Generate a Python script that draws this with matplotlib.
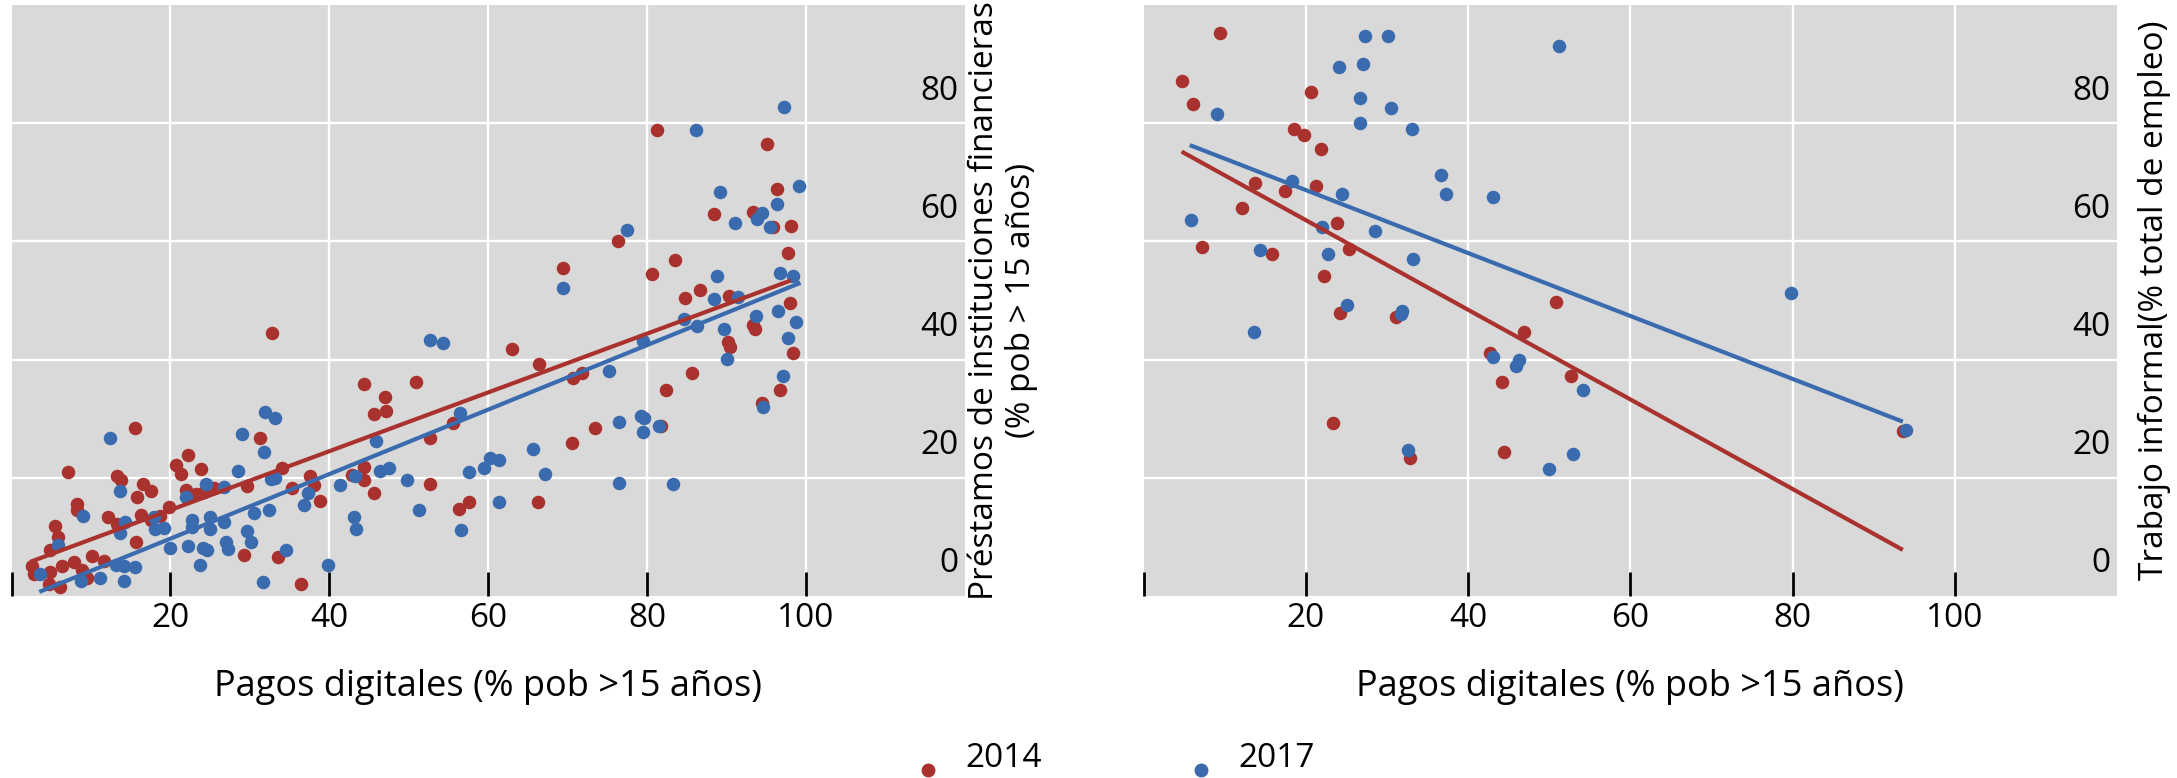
import numpy as np
import matplotlib
matplotlib.use("Agg")
import matplotlib.pyplot as plt
import matplotlib.transforms as mtransforms
from matplotlib.lines import Line2D
from matplotlib.legend_handler import HandlerLine2D

plt.rcParams['font.family'] = ['Open Sans', 'DejaVu Sans']

# ---------------- data ----------------
years = ["2014", "2017"]

# Left panel: Pagos digitales vs Préstamos de instituciones financieras
left_2014 = [
    (32.8,44.5),(44.3,35.9),(47.0,33.7),(45.6,30.8),(47.1,31.3),(50.9,36.2),(15.5,28.4),(31.3,26.8),
    (55.6,29.3),(52.7,26.8),(22.2,23.9),(20.7,22.1),(21.3,20.6),(23.8,21.5),(7.1,21.0),(13.3,20.3),
    (13.8,19.6),(16.6,18.9),(17.6,17.8),(15.8,16.7),(21.9,17.9),(23.2,17.3),(24.2,17.6),(25.5,18.2),
    (29.7,18.6),(34.0,21.7),(37.6,20.3),(38.1,18.8),(35.3,18.3),(38.8,16.1),(42.8,20.4),(44.4,21.9),
    (44.4,19.6),(45.6,17.4),(52.7,18.9),(56.3,14.8),(57.6,15.9),(8.2,15.6),(8.2,14.5),(12.2,13.4),
    (13.3,12.2),(16.3,13.7),(17.5,12.8),(18.7,13.5),(19.8,15.0),(5.5,11.9),(5.9,10.0),(4.8,7.8),
    (15.7,9.1),(10.1,6.8),(7.9,5.8),(11.6,5.9),(6.4,5.0),(2.6,5.0),(2.8,3.8),(4.9,4.1),(8.9,4.4),
    (9.5,3.1),(4.7,2.0),(6.1,1.5),(29.2,6.9),(33.6,6.6),(36.4,2.1),
    (81.2,78.9),(95.1,76.5),(96.3,68.9),(88.4,64.6),(93.3,65.0),(95.8,62.4),(98.1,62.6),(76.3,60.0),
    (97.7,58.0),(69.4,55.5),(83.5,56.9),(80.6,54.4),(84.7,50.4),(86.7,51.7),(90.3,50.7),(98.0,49.5),
    (93.3,45.8),(93.6,45.2),(90.2,43.0),(90.4,42.1),(98.3,41.1),(63.0,41.8),(66.4,39.3),(70.7,36.9),
    (71.8,37.8),(85.6,37.8),(82.4,34.9),(96.7,34.8),(94.4,32.6),
    (73.4,28.4),(70.6,25.9),(81.7,28.8),(66.3,15.9),
]
left_2017 = [
    (52.7,43.4),(54.3,42.8),(31.9,31.2),(33.2,30.2),(12.4,26.8),(29.0,27.4),(56.5,30.9),(31.8,24.3),
    (45.9,26.3),(28.5,21.2),(32.6,19.8),(33.1,19.9),(43.2,20.3),(46.4,21.2),(47.5,21.7),(49.8,19.6),
    (57.6,21.0),(59.5,21.6),(60.2,23.3),(61.4,23.0),(61.4,15.9),(41.3,18.8),(37.3,17.4),(36.8,15.4),
    (51.3,14.6),(43.1,13.4),(43.4,11.4),(56.6,11.1),(24.5,19.0),(26.7,18.5),(22.0,16.7),(13.6,17.7),
    (9.0,13.6),(14.3,12.5),(13.6,10.7),(17.9,13.4),(18.1,11.4),(19.2,11.5),(22.7,12.8),(22.7,11.7),
    (25.0,13.3),(25.0,11.3),(26.7,12.6),(30.5,14.1),(32.4,14.6),(29.6,11.0),(30.1,9.1),(27.0,9.1),
    (27.3,7.9),(22.2,8.5),(24.1,8.1),(24.6,7.7),(19.9,8.2),(23.7,5.2),(34.6,7.8),(39.8,5.2),(31.7,2.3),
    (5.8,8.7),(3.6,3.7),(8.7,2.5),(11.1,3.0),(13.1,5.2),(14.1,5.1),(15.5,4.9),(14.2,2.5),
    (97.2,82.8),(86.2,78.9),(99.1,69.4),(89.2,68.3),(96.3,66.4),(91.0,63.1),(93.8,63.8),(94.4,64.8),
    (95.5,62.4),(77.5,62.0),(69.4,52.1),(88.8,54.1),(96.7,54.6),(98.4,54.2),(88.4,50.2),(91.4,50.6),
    (84.6,46.9),(86.3,45.7),(89.7,45.1),(93.7,47.3),(96.5,48.3),(98.7,46.3),(97.7,43.7),(79.5,43.2),
    (90.1,40.1),(75.2,38.1),(97.1,37.3),
    (94.6,31.9),(76.5,29.5),(79.2,30.5),(79.6,30.2),(79.5,27.8),(81.5,28.8),(65.6,24.8),(67.1,20.6),
    (76.5,19.2),(83.3,19.0),
]
# Right panel: Pagos digitales vs Trabajo informal
right_2014 = [
    (9.4,95.2),(4.8,87.1),(6.1,83.2),(20.7,85.2),(18.6,79.0),(19.8,78.0),(21.9,75.7),(13.8,69.9),
    (17.5,68.5),(21.3,69.3),(12.2,65.6),(23.8,63.1),(7.2,59.0),(15.9,57.8),(25.3,58.7),(22.2,54.1),
    (24.2,47.9),(31.1,47.2),(50.8,49.7),(46.9,44.6),(42.7,41.1),(44.2,36.2),(52.7,37.3),(23.4,29.2),
    (32.9,23.4),(44.4,24.4),(93.6,27.9),
]
right_2017 = [
    (27.3,94.7),(30.1,94.7),(51.2,93.1),(24.1,89.5),(27.0,90.1),(26.7,84.2),(30.5,82.6),(9.1,81.5),
    (26.7,80.0),(33.1,79.0),(36.7,71.2),(37.3,68.1),(43.1,67.5),(18.3,70.2),(24.5,68.0),(5.8,63.6),
    (22.0,62.4),(28.5,61.8),(14.4,58.6),(22.7,57.9),(33.2,57.1),(25.1,49.3),(31.9,48.3),(31.8,47.7),
    (13.6,44.6),(43.1,40.5),(46.3,40.0),(45.9,39.0),(54.2,34.9),(32.6,24.7),(50.0,21.5),(52.9,24.0),
    (94.0,28.1),(79.8,51.2),
]

# Fitted trend lines (end points)
trend_left_2014_x = [2.4, 98.1]
trend_left_2014_y = [5.8, 53.4]
trend_left_2017_x = [3.5, 99.3]
trend_left_2017_y = [0.7, 53.0]
trend_right_2014_x = [4.7, 93.6]
trend_right_2014_y = [75.2, 7.8]
trend_right_2017_x = [5.7, 93.6]
trend_right_2017_y = [76.3, 29.5]

x_ticks = [0, 20, 40, 60, 80, 100]
x_tick_labels = ["", "20", "40", "60", "80", "100"]
y_ticks = [0, 20, 40, 60, 80]
y_tick_labels = ["0", "20", "40", "60", "80"]

xlabel = "Pagos digitales (% pob >15 años)"
ylabel_left = "Préstamos de instituciones financieras\n(% pob > 15 años)"
ylabel_right = "Trabajo informal(% total de empleo)"

# ---------------- styling ----------------
RED = "#A9322E"
BLUE = "#3A6BAF"
BG = "#D9D9D9"
W, H, DPI = 2177, 778, 100

fig = plt.figure(figsize=(W / DPI, H / DPI), dpi=DPI)
ax1 = fig.add_axes([11.5 / W, (H - 596) / H, 953.5 / W, 591 / H])
ax2 = fig.add_axes([1143.5 / W, (H - 596) / H, 973.5 / W, 591 / H])

panels = [
    (ax1, left_2014, left_2017, (trend_left_2014_x, trend_left_2014_y),
     (trend_left_2017_x, trend_left_2017_y), ylabel_left, 1.003),
    (ax2, right_2014, right_2017, (trend_right_2014_x, trend_right_2014_y),
     (trend_right_2017_x, trend_right_2017_y), ylabel_right, 1.021),
]

for ax, d14, d17, t14, t17, ylab, labx in panels:
    ax.set_facecolor(BG)
    for s in ax.spines.values():
        s.set_visible(False)
    a14 = np.array(d14)
    a17 = np.array(d17)
    ax.scatter(a14[:, 0], a14[:, 1], s=95, color=RED, linewidths=0, zorder=3)
    ax.scatter(a17[:, 0], a17[:, 1], s=95, color=BLUE, linewidths=0, zorder=4)
    ax.plot(t14[0], t14[1], color=RED, lw=3.0, solid_capstyle='butt', zorder=5)
    ax.plot(t17[0], t17[1], color=BLUE, lw=3.0, solid_capstyle='butt', zorder=6)
    ax.set_xlim(0, 120)
    ax.set_ylim(0, 100)

    # x axis: black inward ticks, white grid (each tick draws its grid line first)
    ax.set_xticks(x_ticks)
    ax.set_xticklabels(x_tick_labels)
    ax.tick_params(axis='x', direction='in', length=17, width=2.0, color='black',
                   labelsize=24, pad=4)
    ax.set_xlabel(xlabel, fontsize=26, labelpad=25)

    # y axis: labels inside, on the right
    ax.yaxis.tick_right()
    ax.set_yticks(y_ticks)
    ax.set_yticklabels(y_tick_labels)
    ax.tick_params(axis='y', length=0, labelsize=24, pad=-4.5)

    ax.grid(True, color='white', linewidth=1.7)
    ax.set_axisbelow(True)

    off = mtransforms.ScaledTranslation(0, 36 / DPI, fig.dpi_scale_trans)
    for lab in ax.get_yticklabels():
        lab.set_horizontalalignment('right')
        lab.set_transform(lab.get_transform() + off)
    # no grid line on the panel edges (value 0)
    ax.xaxis.get_major_ticks()[0].gridline.set_visible(False)
    ax.yaxis.get_major_ticks()[0].gridline.set_visible(False)

    ax.yaxis.set_label_position('right')
    ax.set_ylabel(ylab, fontsize=24, linespacing=1.15)
    ax.yaxis.set_label_coords(labx, 0.5)


class LowHandler(HandlerLine2D):
    def create_artists(self, legend, orig_handle, xdescent, ydescent, width, height,
                       fontsize, trans):
        arts = super().create_artists(legend, orig_handle, xdescent, ydescent, width,
                                      height, fontsize, trans)
        for a in arts:
            a.set_ydata(np.asarray(a.get_ydata(), dtype=float) - 0.45 * fontsize)
        return arts


handles = [Line2D([], [], linestyle='none', marker='o', markersize=10,
                  markerfacecolor=c, markeredgewidth=0) for c in (RED, BLUE)]
fig.legend(handles, years, loc='center', bbox_to_anchor=(1113 / W, 0.025),
           ncol=2, frameon=False, fontsize=24, handlelength=1.0, handletextpad=0.6,
           columnspacing=4.3, borderpad=0,
           handler_map={h: LowHandler() for h in handles})

fig.savefig("out.png", dpi=DPI)
